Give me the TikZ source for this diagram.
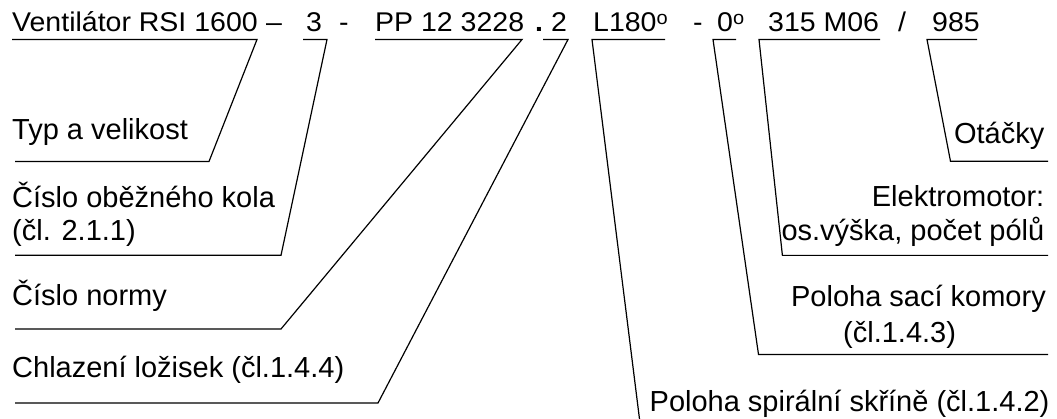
\documentclass[tikz,border=0pt]{standalone}
\usepackage{fontspec}
\setmainfont{Liberation Sans}
\usepackage{graphicx}
\newcommand\topt[1]{\scalebox{1}[0.95]{#1}}
\newcommand\degsup{\raisebox{7.5pt}{\fontsize{20}{20}\selectfont o}}
\begin{document}
\begin{tikzpicture}[x=1pt,y=-1pt,
  lead/.style={line width=1.2pt, line join=miter},
  top/.style={anchor=base west, inner sep=0pt, font=\fontsize{28.5}{30}\selectfont},
  labl/.style={anchor=base west, inner sep=0pt, font=\fontsize{29}{34}\selectfont},
  labr/.style={anchor=base east, inner sep=0pt, font=\fontsize{29}{34}\selectfont}]
\useasboundingbox (0,0) rectangle (1057,419);

% top row
\node[top] (t1) at (12,32) {\topt{Ventilátor RSI 1600}};
\node[top] (d1) at (266,32) {\topt{–}};
\node[top] (t2) at (306,32) {\topt{3}};
\node[top] (d2) at (339,32) {\topt{-}};
\node[top] (t3) at (375,32) {\topt{PP 12 3228}};
\node[top] (dot) at (535,32) {\topt{\textbf{.}}};
\node[top] (t4) at (551,32) {\topt{2}};
\node[top] (t5) at (593,32) {\topt{L180\degsup}};
\node[top] (d3) at (693,32) {\topt{-}};
\node[top] (t6) at (717,32) {\topt{0\degsup}};
\node[top] (t7) at (768,32) {\topt{315 M06}};
\node[top] (sl) at (898,32) {\topt{/}};
\node[top] (t8) at (932,32) {\topt{985}};

% labels
\node[labl] (l1) at (12,140) {Typ a velikost};
\node[labl] (l2a) at (12,207.4) {Číslo oběžného kola};
\node[labl] (l2b) at (12,241) {(čl. 2.1.1)};
\node[labl] (l3) at (12,306) {Číslo normy};
\node[labl] (l4) at (12,377.6) {Chlazení ložisek (čl.1.4.4)};
\node[labr] (r8) at (1044.5,144) {Otáčky};
\node[labr] (r7a) at (1044.5,206.4) {Elektromotor:};
\node[labr] (r7b) at (1044.5,240.6) {os.výška, počet pólů};
\node[labr] (r6a) at (1046,306.6) {Poloha sací komory};
\node[labl] (r6b) at (843,342.5) {(čl.1.4.3)};
\node[labr] (r5) at (1049.6,411) {Poloha spirální skříně (čl.1.4.2)};

% leader coordinates
\coordinate (a1) at (12,39.5);  \coordinate (b1) at (257,39.5);
\coordinate (c1) at (209,161.5); \coordinate (e1) at (15,161.5);
\coordinate (a2) at (303,39.5); \coordinate (b2) at (327,39.5);
\coordinate (c2) at (281,255.3); \coordinate (e2) at (15,255.3);
\coordinate (a3) at (375,39.5); \coordinate (b3) at (522,39.5);
\coordinate (c3) at (281,329); \coordinate (e3) at (15,329);
\coordinate (a4) at (543,39.5); \coordinate (b4) at (568,39.5);
\coordinate (c4) at (378,403); \coordinate (e4) at (15,403);
\coordinate (a5) at (665,39.5); \coordinate (b5) at (592,39.5);
\coordinate (c5) at (639.5,419);
\coordinate (a6) at (736,39.5); \coordinate (b6) at (713,39.5);
\coordinate (c6) at (758.5,354.5); \coordinate (e6) at (1048,354.5);
\coordinate (a7) at (880,39.5); \coordinate (b7) at (759,39.5);
\coordinate (c7) at (782.4,255.4); \coordinate (e7) at (1048,255.4);
\coordinate (a8) at (977,39.5); \coordinate (b8) at (927,39.5);
\coordinate (c8) at (950.5,161.3); \coordinate (e8) at (1048,161.3);

\draw[lead] (a1) -- (b1) -- (c1) -- (e1);
\draw[lead] (a2) -- (b2) -- (c2) -- (e2);
\draw[lead] (a3) -- (b3) -- (c3) -- (e3);
\draw[lead] (a4) -- (b4) -- (c4) -- (e4);
\draw[lead] (a5) -- (b5) -- (c5);
\draw[lead] (a6) -- (b6) -- (c6) -- (e6);
\draw[lead] (a7) -- (b7) -- (c7) -- (e7);
\draw[lead] (a8) -- (b8) -- (c8) -- (e8);
\end{tikzpicture}
\end{document}
